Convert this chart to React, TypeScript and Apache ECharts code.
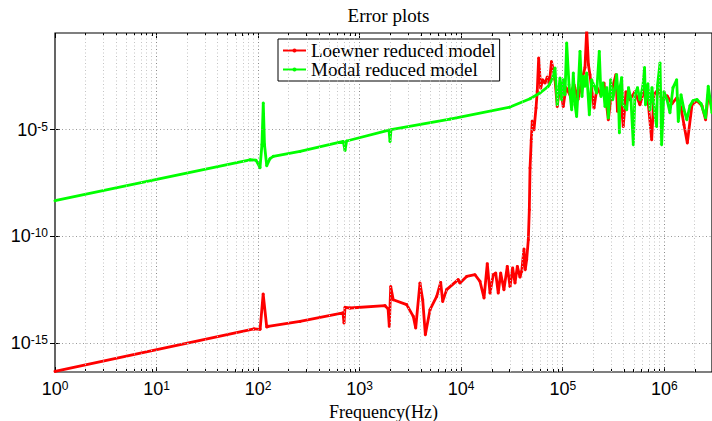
import React, { useEffect, useRef } from 'react';
import * as echarts from 'echarts';

// log10(frequency in Hz) and log10(error)
const loewnerLogF = [0, 1.96, 2.02, 2.05, 2.085, 2.1, 2.413, 2.836, 2.846, 2.856, 2.905, 3.25, 3.28, 3.292, 3.306, 3.331, 3.463, 3.528, 3.552, 3.594, 3.621, 3.647, 3.693, 3.759, 3.798, 3.818, 3.857, 3.971, 3.988, 4.054, 4.136, 4.185, 4.225, 4.257, 4.284, 4.316, 4.34, 4.365, 4.389, 4.421, 4.454, 4.481, 4.507, 4.53, 4.553, 4.579, 4.596, 4.618, 4.631, 4.645, 4.661, 4.671, 4.678, 4.69, 4.7, 4.717, 4.737, 4.749, 4.763, 4.783, 4.802, 4.825, 4.848, 4.868, 4.889, 4.907, 4.924, 4.946, 4.973, 5.005, 5.032, 5.071, 5.111, 5.15, 5.19, 5.219, 5.236, 5.253, 5.268, 5.308, 5.337, 5.377, 5.406, 5.449, 5.485, 5.524, 5.539, 5.564, 5.596, 5.623, 5.662, 5.711, 5.76, 5.81, 5.839, 5.876, 5.898, 5.938, 5.977, 6.027, 6.076, 6.125, 6.165, 6.194, 6.227, 6.273, 6.322, 6.371, 6.407, 6.433, 6.47];
const loewnerLogErr = [-16.33, -14.34, -14.36, -12.7, -14.25, -14.22, -13.99, -13.59, -14.06, -13.33, -13.36, -13.25, -13.4, -14.22, -12.35, -12.97, -13.2, -13.75, -14.3, -12.19, -12.97, -14.61, -13.44, -12.82, -12.16, -13.05, -12.5, -12.03, -12.19, -11.88, -11.8, -12.11, -12.89, -11.28, -12.66, -11.8, -11.72, -12.66, -11.72, -12.5, -11.41, -12.35, -11.48, -12.19, -11.41, -11.91, -11.64, -10.59, -11.56, -11.09, -10.16, -8.75, -6.8, -5.5, -4.6, -5.0, -3.98, -3.2, -1.64, -3.05, -2.66, -2.81, -2.53, -2.89, -1.8, -2.19, -2.66, -3.91, -2.89, -3.91, -3.03, -3.36, -2.89, -3.59, -2.66, -2.09, -0.3, -1.95, -2.42, -3.98, -3.03, -3.36, -2.81, -4.53, -3.12, -2.42, -4.14, -3.12, -4.85, -3.22, -3.59, -3.22, -3.83, -3.03, -3.59, -5.47, -3.36, -3.12, -3.59, -3.41, -3.78, -3.5, -3.97, -4.77, -5.62, -3.83, -3.64, -3.88, -4.53, -3.36, -3.97];

const modalLogF = [0, 1.92, 1.979, 2.019, 2.038, 2.051, 2.063, 2.085, 2.117, 2.15, 2.413, 2.839, 2.856, 2.872, 3.289, 3.299, 3.309, 3.89, 4.481, 4.678, 4.776, 4.855, 4.894, 4.924, 4.946, 4.973, 4.99, 5.006, 5.022, 5.039, 5.062, 5.088, 5.104, 5.121, 5.137, 5.153, 5.17, 5.19, 5.204, 5.219, 5.236, 5.262, 5.285, 5.308, 5.334, 5.36, 5.377, 5.396, 5.416, 5.433, 5.449, 5.472, 5.492, 5.515, 5.531, 5.549, 5.558, 5.564, 5.58, 5.593, 5.63, 5.648, 5.672, 5.695, 5.711, 5.736, 5.76, 5.79, 5.806, 5.815, 5.839, 5.859, 5.879, 5.908, 5.925, 5.933, 5.958, 5.974, 5.997, 6.027, 6.056, 6.086, 6.122, 6.138, 6.165, 6.194, 6.222, 6.253, 6.283, 6.322, 6.362, 6.407, 6.433, 6.47];
const modalLogErr = [-8.33, -6.41, -6.43, -6.78, -5.7, -3.75, -5.7, -6.69, -6.36, -6.25, -6.02, -5.55, -5.97, -5.53, -5.02, -5.55, -5.0, -4.5, -3.94, -3.55, -3.28, -2.98, -2.66, -2.11, -3.83, -2.58, -3.59, -2.66, -3.36, -0.94, -2.89, -4.06, -2.34, -3.83, -4.38, -3.03, -1.33, -3.44, -2.5, -2.96, -2.34, -4.3, -2.66, -2.94, -3.28, -1.33, -3.44, -2.81, -3.91, -3.03, -4.45, -2.66, -3.59, -3.03, -2.42, -3.59, -5.14, -3.03, -2.56, -3.83, -4.06, -3.03, -3.59, -5.7, -3.36, -3.03, -3.59, -2.94, -2.09, -3.83, -2.85, -4.06, -3.03, -4.3, -4.85, -2.94, -1.87, -5.7, -3.22, -3.59, -4.2, -3.03, -2.66, -4.61, -3.36, -4.06, -4.53, -3.88, -3.64, -3.59, -3.78, -4.44, -2.97, -4.2];

const xTickExps = [0, 1, 2, 3, 4, 5, 6];
const yTickExps = [-15, -10, -5];
const minorMultipliers = [2, 3, 4, 5, 6, 7, 8, 9];

const X_MIN = 0;
const X_MAX = 6.47;
const Y_MIN = -16.36;
const Y_MAX = -0.467;

const minorX: number[] = [];
xTickExps.forEach((d) => {
  minorMultipliers.forEach((m) => {
    const v = d + Math.log10(m);
    if (v < X_MAX) minorX.push(v);
  });
});

const zip = (a: number[], b: number[]) => a.map((v, i) => [v, b[i]]);

const tickFont = 'Liberation Sans, Arial, sans-serif';
const serif = 'Liberation Serif, Times New Roman, serif';

const richPow = {
  b: { fontSize: 18, lineHeight: 18, padding: [4, 0, 0, 0], verticalAlign: 'bottom', fontFamily: tickFont, color: '#000' },
  s: { fontSize: 12, lineHeight: 12, verticalAlign: 'top', fontFamily: tickFont, color: '#000' },
};

const dotted = (color: string) => ({ color, width: 1, type: [1, 2.5] as any });

export default function App() {
  const ref = useRef<HTMLDivElement>(null);
  useEffect(() => {
    const chart = echarts.init(ref.current!, null, { renderer: 'svg' });
    const hiddenX = (position: 'top' | 'bottom', values: number[], len: number) => ({
      type: 'value',
      position,
      min: X_MIN,
      max: X_MAX,
      axisLine: { show: false },
      axisLabel: { show: false },
      splitLine: { show: false },
      axisTick: { show: true, inside: true, length: len, customValues: values, lineStyle: { color: '#000', width: 1 } },
    });
    const gridLines = [
      ...xTickExps.filter((v) => v > X_MIN).map((v) => ({ xAxis: v, lineStyle: dotted('#8a8a8a') })),
      ...minorX.map((v) => ({ xAxis: v, lineStyle: dotted('#c4c4c4') })),
      ...yTickExps.map((v) => ({ yAxis: v, lineStyle: dotted('#9a9a9a') })),
    ];
    chart.setOption({
      animation: false,
      backgroundColor: '#fff',
      title: {
        text: 'Error plots',
        left: 383.5,
        top: 1,
        textAlign: 'center',
        textStyle: { fontFamily: serif, fontSize: 19, fontWeight: 'normal', color: '#000' },
      },
      legend: {
        data: ['Loewner reduced model', 'Modal reduced model'],
        orient: 'vertical',
        left: 278,
        top: 39,
        padding: [2, 4, 2, 4],
        itemGap: 0,
        itemWidth: 23,
        itemHeight: 5,
        backgroundColor: '#fff',
        borderColor: '#000',
        borderWidth: 1,
        borderRadius: 0,
        textStyle: { fontFamily: serif, fontSize: 19, lineHeight: 15, color: '#000' },
      },
      grid: {
        left: 55,
        right: 0,
        top: 33,
        bottom: 49,
        show: true,
        borderColor: '#000',
        borderWidth: 1.2,
        containLabel: false,
        outerBoundsMode: 'none',
      },
      xAxis: [
        {
          type: 'value',
          position: 'bottom',
          min: X_MIN,
          max: X_MAX,
          name: 'Frequency(Hz)',
          nameLocation: 'middle',
          nameGap: 28,
          nameTextStyle: { fontFamily: serif, fontSize: 18, color: '#000' },
          axisLine: { show: false },
          splitLine: { show: false },
          axisTick: { show: true, inside: true, length: 5, customValues: xTickExps, lineStyle: { color: '#000', width: 1 } },
          axisLabel: {
            customValues: xTickExps,
            margin: 8,
            formatter: (v: number) => `{b|10}{s|${Math.round(v)}}`,
            rich: richPow,
          },
        },
        hiddenX('bottom', minorX, 3),
        hiddenX('top', xTickExps, 5),
        hiddenX('top', minorX, 3),
      ],
      yAxis: [
        {
          type: 'value',
          position: 'left',
          min: Y_MIN,
          max: Y_MAX,
          axisLine: { show: false },
          splitLine: { show: false },
          axisTick: { show: true, inside: true, length: 5, customValues: yTickExps, lineStyle: { color: '#000', width: 1 } },
          axisLabel: {
            customValues: yTickExps,
            margin: 7,
            formatter: (v: number) => `{b|10}{s|${Math.round(v)}}`,
            rich: richPow,
          },
        },
        {
          type: 'value',
          position: 'right',
          min: Y_MIN,
          max: Y_MAX,
          axisLine: { show: false },
          splitLine: { show: false },
          axisLabel: { show: false },
          axisTick: { show: true, inside: true, length: 5, customValues: yTickExps, lineStyle: { color: '#000', width: 1 } },
        },
      ],
      series: [
        {
          type: 'line',
          data: [],
          silent: true,
          z: 1,
          xAxisIndex: 0,
          yAxisIndex: 0,
          markLine: {
            silent: true,
            symbol: ['none', 'none'],
            label: { show: false },
            animation: false,
            data: gridLines,
          },
        },
        {
          name: 'Loewner reduced model',
          type: 'line',
          xAxisIndex: 0,
          yAxisIndex: 0,
          z: 3,
          data: zip(loewnerLogF, loewnerLogErr),
          showSymbol: true,
          symbol: 'circle',
          symbolSize: 3,
          color: '#ff0000',
          itemStyle: { color: '#ff0000' },
          lineStyle: { color: '#ff0000', width: 2.8 },
          clip: true,
        },
        {
          name: 'Modal reduced model',
          type: 'line',
          xAxisIndex: 0,
          yAxisIndex: 0,
          z: 4,
          data: zip(modalLogF, modalLogErr),
          showSymbol: true,
          symbol: 'circle',
          symbolSize: 3,
          color: '#00ff00',
          itemStyle: { color: '#00ff00' },
          lineStyle: { color: '#00ff00', width: 2.8 },
          clip: true,
        },
      ],
    });
    return () => chart.dispose();
  }, []);
  return (
    <div
      ref={ref}
      style={{ position: 'fixed', left: 0, top: 0, width: 712, height: 421, background: '#fff' }}
    />
  );
}
